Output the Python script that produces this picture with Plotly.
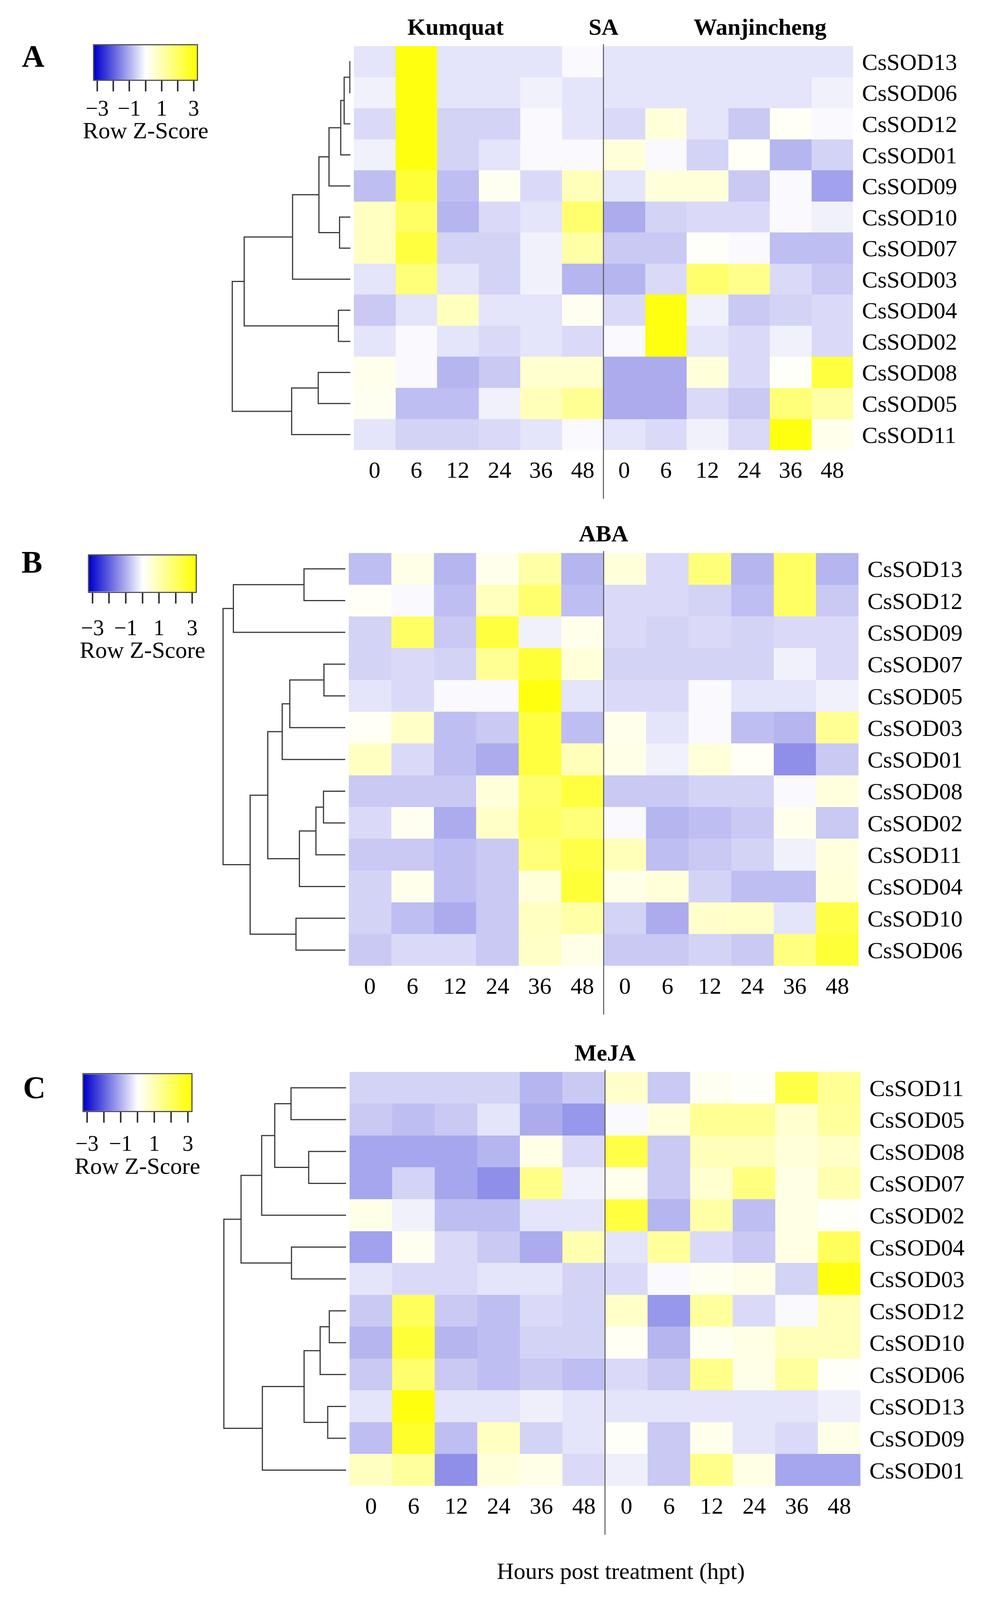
import plotly.graph_objects as go

# reference canvas the geometry below was measured on (pixels); positions are
# converted to fractions so the figure fills whatever viewport the page gets
W, H = 2568, 5168
SERIF = "Liberation Serif"

hours = ["0", "6", "12", "24", "36", "48"]
col_labels = hours + hours
groups = ["Kumquat", "Wanjincheng"]

rows_A = ["CsSOD13", "CsSOD06", "CsSOD12", "CsSOD01", "CsSOD09", "CsSOD10", "CsSOD07",
          "CsSOD03", "CsSOD04", "CsSOD02", "CsSOD08", "CsSOD05", "CsSOD11"]
z_A = [
    [-0.34, 3.0, -0.34, -0.34, -0.34, -0.08, -0.34, -0.34, -0.34, -0.34, -0.34, -0.34],
    [-0.18, 3.0, -0.34, -0.34, -0.18, -0.34, -0.34, -0.34, -0.34, -0.34, -0.34, -0.18],
    [-0.46, 3.0, -0.55, -0.55, -0.08, -0.34, -0.46, 0.47, -0.34, -0.68, 0.12, -0.08],
    [-0.18, 3.0, -0.55, -0.34, -0.08, -0.08, 0.47, -0.08, -0.55, 0.12, -0.93, -0.55],
    [-0.82, 2.5, -0.82, 0.18, -0.46, 0.88, -0.34, 0.47, 0.47, -0.68, -0.08, -1.18],
    [0.76, 1.94, -0.93, -0.46, -0.34, 1.82, -1.06, -0.55, -0.46, -0.46, -0.08, -0.18],
    [0.76, 2.4, -0.55, -0.55, -0.18, 1.12, -0.68, -0.68, 0.06, -0.08, -0.82, -0.82],
    [-0.34, 1.7, -0.34, -0.55, -0.18, -0.93, -0.93, -0.46, 1.82, 1.47, -0.46, -0.68],
    [-0.68, -0.34, 0.82, -0.34, -0.34, 0.18, -0.46, 3.0, -0.18, -0.68, -0.55, -0.46],
    [-0.34, -0.08, -0.34, -0.46, -0.34, -0.46, -0.08, 3.0, -0.34, -0.46, -0.18, -0.46],
    [0.24, -0.08, -0.93, -0.68, 0.59, 0.59, -1.06, -1.06, 0.47, -0.46, 0.06, 2.4],
    [0.18, -0.82, -0.82, -0.18, 0.88, 1.35, -1.06, -1.06, -0.46, -0.68, 1.7, 1.12],
    [-0.34, -0.55, -0.55, -0.46, -0.34, -0.08, -0.34, -0.46, -0.18, -0.46, 3.0, 0.24],
]

rows_B = ["CsSOD13", "CsSOD12", "CsSOD09", "CsSOD07", "CsSOD05", "CsSOD03", "CsSOD01",
          "CsSOD08", "CsSOD02", "CsSOD11", "CsSOD04", "CsSOD10", "CsSOD06"]
z_B = [
    [-0.82, 0.3, -0.93, 0.24, 1.12, -0.93, 0.47, -0.46, 1.7, -0.93, 1.94, -0.93],
    [0.12, -0.08, -0.82, 0.82, 1.82, -0.82, -0.46, -0.46, -0.55, -0.82, 1.94, -0.68],
    [-0.55, 1.94, -0.68, 2.4, -0.18, 0.24, -0.46, -0.55, -0.46, -0.55, -0.46, -0.46],
    [-0.55, -0.46, -0.55, 1.35, 2.5, 0.47, -0.55, -0.55, -0.55, -0.55, -0.18, -0.46],
    [-0.34, -0.46, -0.08, -0.08, 3.0, -0.34, -0.46, -0.46, -0.08, -0.34, -0.34, -0.18],
    [0.12, 0.7, -0.82, -0.68, 2.4, -0.82, 0.24, -0.34, -0.08, -0.82, -0.93, 1.35],
    [0.76, -0.46, -0.82, -1.06, 2.4, 0.88, 0.3, -0.18, 0.47, 0.12, -1.41, -0.68],
    [-0.68, -0.68, -0.68, 0.47, 1.82, 2.4, -0.68, -0.68, -0.55, -0.55, -0.08, 0.41],
    [-0.46, 0.18, -1.06, 0.7, 1.94, 1.7, -0.08, -0.93, -0.82, -0.68, 0.24, -0.68],
    [-0.68, -0.68, -0.82, -0.68, 1.7, 2.3, 0.88, -0.82, -0.68, -0.55, -0.18, 0.41],
    [-0.55, 0.24, -0.82, -0.68, 0.47, 2.5, 0.3, 0.47, -0.55, -0.82, -0.82, 0.47],
    [-0.55, -0.82, -1.06, -0.68, 0.76, 1.12, -0.55, -1.06, 0.65, 0.7, -0.34, 2.3],
    [-0.68, -0.46, -0.46, -0.68, 0.7, 0.3, -0.68, -0.68, -0.55, -0.68, 1.6, 2.5],
]

rows_C = ["CsSOD11", "CsSOD05", "CsSOD08", "CsSOD07", "CsSOD02", "CsSOD04", "CsSOD03",
          "CsSOD12", "CsSOD10", "CsSOD06", "CsSOD13", "CsSOD09", "CsSOD01"]
z_C = [
    [-0.55, -0.55, -0.55, -0.55, -0.93, -0.68, 0.65, -0.68, 0.18, 0.06, 2.3, 1.35],
    [-0.68, -0.82, -0.68, -0.34, -1.06, -1.3, -0.08, 0.47, 1.35, 1.35, 0.59, 1.24],
    [-1.12, -1.12, -1.12, -0.93, 0.3, -0.46, 2.3, -0.68, 0.88, 0.88, 0.47, 0.7],
    [-1.12, -0.55, -1.12, -1.41, 1.47, -0.18, 0.24, -0.68, 0.59, 1.6, 0.35, 1.0],
    [0.3, -0.18, -0.82, -0.82, -0.34, -0.34, 2.4, -0.93, 1.12, -0.82, 0.35, 0.08],
    [-1.18, 0.18, -0.46, -0.68, -1.06, 1.0, -0.34, 1.24, -0.46, -0.68, 0.35, 2.06],
    [-0.34, -0.46, -0.46, -0.34, -0.34, -0.55, -0.46, -0.08, 0.18, 0.3, -0.55, 3.0],
    [-0.68, 2.06, -0.68, -0.82, -0.46, -0.55, 0.7, -1.3, 1.24, -0.46, -0.08, 0.88],
    [-0.93, 2.5, -0.93, -0.82, -0.55, -0.55, 0.12, -0.93, 0.18, 0.35, 0.88, 0.88],
    [-0.68, 1.82, -0.68, -0.82, -0.68, -0.82, -0.46, -0.68, 1.47, 0.3, 1.24, 0.08],
    [-0.34, 3.0, -0.34, -0.34, -0.2, -0.34, -0.34, -0.34, -0.34, -0.34, -0.34, -0.2],
    [-0.82, 2.65, -0.82, 0.76, -0.55, -0.34, 0.08, -0.68, 0.24, -0.34, -0.46, 0.3],
    [0.76, 1.24, -1.41, 0.47, 0.3, -0.46, -0.2, -0.68, 1.47, 0.35, -1.12, -1.12],
]

# dendrogram merges: (node, child1, child2, height)
merges_A = [
    ("a0", "CsSOD13", "CsSOD06", 2), ("a1", "a0", "CsSOD12", 27), ("a2", "a1", "CsSOD01", 42),
    ("a3", "a2", "CsSOD09", 93), ("a4", "CsSOD10", "CsSOD07", 47), ("a5", "a3", "a4", 137),
    ("a6", "a5", "CsSOD03", 252), ("a7", "CsSOD04", "CsSOD02", 52), ("a8", "a6", "a7", 463),
    ("a9", "CsSOD08", "CsSOD05", 140), ("a10", "a9", "CsSOD11", 256), ("a11", "a8", "a10", 515),
]
merges_B = [
    ("b0", "CsSOD13", "CsSOD12", 180), ("b1", "b0", "CsSOD09", 488), ("b2", "CsSOD07", "CsSOD05", 93),
    ("b3", "b2", "CsSOD03", 242), ("b4", "b3", "CsSOD01", 275), ("b5", "CsSOD08", "CsSOD02", 95),
    ("b6", "b5", "CsSOD11", 128), ("b7", "b6", "CsSOD04", 200), ("b8", "b4", "b7", 338),
    ("b9", "CsSOD10", "CsSOD06", 215), ("b10", "b8", "b9", 415), ("b11", "b1", "b10", 533),
]
merges_C = [
    ("c0", "CsSOD11", "CsSOD05", 240), ("c1", "CsSOD08", "CsSOD07", 163), ("c2", "c0", "c1", 311),
    ("c3", "c2", "CsSOD02", 368), ("c4", "CsSOD04", "CsSOD03", 238), ("c5", "c3", "c4", 458),
    ("c6", "CsSOD12", "CsSOD10", 73), ("c7", "c6", "CsSOD06", 113), ("c8", "CsSOD13", "CsSOD09", 80),
    ("c9", "c7", "c8", 183), ("c10", "c9", "CsSOD01", 365), ("c11", "c5", "c10", 533),
]

treatments = ["SA", "ABA", "MeJA"]
panel_letters = ["A", "B", "C"]
legend_ticks = [-3, -2, -1, 0, 1, 2, 3]
legend_labels = ["−3", "−1", "1", "3"]
legend_label_vals = [-3, -1, 1, 3]
key_title = "Row Z-Score"
x_title = "Hours post treatment (hpt)"

# ---- layout geometry (reference pixels) ----
panels = [
    dict(rows=rows_A, z=z_A, merges=merges_A, hm=(906, 2184, 149, 1454),
         leg=(241, 504, 146, 258), leg_lab=349, leg_title=421, letter=(85, 182)),
    dict(rows=rows_B, z=z_B, merges=merges_B, hm=(893, 2198, 1786, 3120),
         leg=(228, 501, 1794, 1911), leg_lab=2028, leg_title=2100, letter=(82, 1815)),
    dict(rows=rows_C, z=z_C, merges=merges_C, hm=(895, 2203, 3462, 4800),
         leg=(214, 490, 3470, 3588), leg_lab=3693, leg_title=3766, letter=(88, 3513)),
]
DPX = 0.587  # reference pixels per dendrogram height unit
CMIN, CMAX = -3.2, 3.2
CSCALE = [[0.0, "#0000CD"], [0.5, "#FFFFFF"], [1.0, "#FFFF00"]]


def px(x):
    return x / W


def py(y):
    return 1 - y / H


def dendro(merges, order):
    pos = {name: (0.0, float(i)) for i, name in enumerate(order)}
    xs, ys = [], []
    for node, a, b, h in merges:
        ha, ya = pos[a]
        hb, yb = pos[b]
        xs += [ha, h, h, hb, None]
        ys += [ya, ya, yb, yb, None]
        pos[node] = (h, (ya + yb) / 2)
    return xs, ys


def ax_name(kind, k):
    return kind if k == 1 else f"{kind}{k}"


def ax_ref(kind, k):
    return kind if k == 1 else f"{kind}{k}"


fig = go.Figure()
layout = dict(autosize=True, margin=dict(l=0, r=0, t=0, b=0),
              paper_bgcolor="white", plot_bgcolor="white",
              font=dict(family=SERIF, color="black", size=60), showlegend=False,
              coloraxis=dict(cmin=CMIN, cmax=CMAX, colorscale=CSCALE, showscale=False))
shapes, annotations = [], []


def ann(text, x, y, size=60, xref="paper", bold=False):
    annotations.append(dict(text=f"<b>{text}</b>" if bold else text, x=x, y=y, xref=xref,
                            yref="paper", xanchor="center", yanchor="middle", showarrow=False,
                            font=dict(size=size, family=SERIF, color="black")))


for i, p in enumerate(panels):
    k = 3 * i + 1  # heatmap axes k, dendrogram k+1, colour key k+2
    L, R, T, B = p["hm"]
    n = len(p["rows"])
    hx, hy = ax_ref("x", k), ax_ref("y", k)

    # heatmap
    fig.add_trace(go.Heatmap(z=p["z"], x=list(range(12)), y=list(range(n)),
                             coloraxis="coloraxis", xaxis=hx, yaxis=hy, hoverinfo="skip"))
    layout[ax_name("xaxis", k)] = dict(domain=[px(L), px(R)], range=[-0.5, 11.5], anchor=hy,
                                       showticklabels=False, ticks="", showgrid=False,
                                       zeroline=False, showline=False)
    layout[ax_name("yaxis", k)] = dict(domain=[py(B), py(T)], range=[n - 0.5, -0.5], anchor=hx,
                                       side="right", tickvals=list(range(n)), ticktext=p["rows"],
                                       ticks="", ticklabelstandoff=22, showgrid=False,
                                       zeroline=False, showline=False,
                                       tickfont=dict(size=60, family=SERIF, color="black"))
    for c, lab in enumerate(col_labels):
        ann(lab, c, py(B + 64), xref=hx)

    # dendrogram
    xs, ys = dendro(p["merges"], p["rows"])
    fig.add_trace(go.Scatter(x=xs, y=ys, mode="lines", xaxis=f"x{k + 1}", yaxis=f"y{k + 1}",
                             line=dict(color="#3a3a3a", width=3), hoverinfo="skip"))
    leaf_px = L - 9
    layout[f"xaxis{k + 1}"] = dict(domain=[0, px(leaf_px)], range=[leaf_px / DPX, 0],
                                   anchor=f"y{k + 1}", visible=False)
    layout[f"yaxis{k + 1}"] = dict(domain=[py(B), py(T)], range=[n - 0.5, -0.5],
                                   anchor=f"x{k + 1}", visible=False)

    # colour key
    lx0, lx1, ly0, ly1 = p["leg"]
    fig.add_trace(go.Heatmap(z=[[CMIN, CMAX]], x=[CMIN, CMAX], y=[0], zsmooth="best",
                             colorscale=CSCALE, zmin=CMIN, zmax=CMAX, showscale=False,
                             xaxis=f"x{k + 2}", yaxis=f"y{k + 2}", hoverinfo="skip"))
    layout[f"xaxis{k + 2}"] = dict(domain=[px(lx0), px(lx1)], range=[CMIN, CMAX],
                                   anchor=f"y{k + 2}", tickvals=legend_ticks, ticks="outside",
                                   ticklen=27, tickwidth=4, tickcolor="#333",
                                   showticklabels=False, showgrid=False, zeroline=False,
                                   showline=True, mirror=True, linewidth=3, linecolor="#555")
    layout[f"yaxis{k + 2}"] = dict(domain=[py(ly1), py(ly0)], range=[-0.5, 0.5],
                                   anchor=f"x{k + 2}", showticklabels=False, ticks="",
                                   showgrid=False, zeroline=False, showline=True, mirror=True,
                                   linewidth=3, linecolor="#555")
    span = lx1 - lx0
    for v, t in zip(legend_label_vals, legend_labels):
        ann(t, px(lx0 + span * (v - CMIN) / (CMAX - CMIN)), py(p["leg_lab"]), size=56)
    ann(key_title, px((lx0 + lx1) / 2), py(p["leg_title"]))

    # panel letter and headers
    lx, ly = p["letter"]
    ann(panel_letters[i], px(lx), py(ly), size=80, bold=True)
    ann(treatments[i], 5.5, py(T - 62), xref=hx, bold=True)
    if i == 0:
        ann(groups[0], px(1166), py(T - 62), bold=True)
        ann(groups[1], px(1946), py(T - 62), bold=True)

    # divider between cultivars
    shapes.append(dict(type="line", xref=hx, yref="paper", x0=5.5, x1=5.5,
                       y0=py(T - 6), y1=py(B + 157), line=dict(color="#555", width=2.5)))

ann(x_title, px(1589), py(5075))

layout["shapes"] = shapes
layout["annotations"] = annotations
fig.update_layout(**layout)

post = ("document.documentElement.style.margin='0';document.body.style.margin='0';"
        "document.body.style.overflow='hidden';"
        "var gd=document.getElementById('{plot_id}');Plotly.Plots.resize(gd);")
fig.write_html("out.html", default_width="100%", default_height="100vh",
               post_script=post, config={"responsive": True, "displayModeBar": False})
